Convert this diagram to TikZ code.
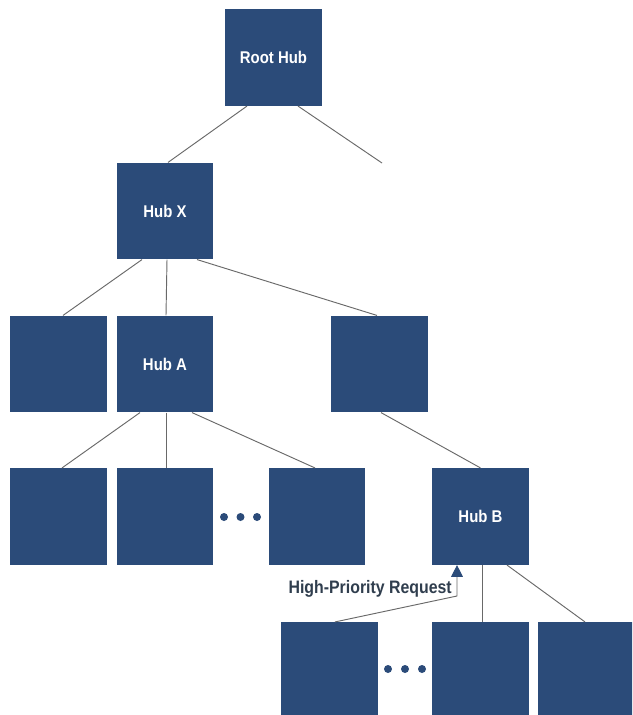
\documentclass[tikz,border=0pt]{standalone}
\usepackage{fontspec}
\setmainfont{Liberation Sans}
\newfontfamily\hubfont[FakeStretch=0.88]{Liberation Sans}
\usetikzlibrary{calc,arrows.meta}
\definecolor{hubblue}{RGB}{43,75,121}
\definecolor{wiregray}{RGB}{105,105,105}
\definecolor{labelgray}{RGB}{48,62,78}
\begin{document}
\begin{tikzpicture}[x=0.03cm, y=-0.03cm]
\tikzstyle{hub}=[fill=hubblue, minimum size=2.9cm, inner sep=0pt, text=white,
    font=\hubfont\bfseries\fontsize{14.5}{16}\selectfont]
\tikzstyle{wire}=[draw=wiregray, line width=0.8pt]

\clip (0,0) rectangle (632,715);
\fill[white] (0,0) rectangle (632,715);

% boxes, row by row
\node[hub] (Root) at (273.5,57.5) {Root Hub};
\node[hub] (HubX) at (165,211) {Hub X};

\node[hub] (X1) at (58.5,364) {};
\node[hub] (HubA) at (165,364) {Hub A};
\node[hub] (X3) at (379.5,364) {};

\node[hub] (A1) at (58.5,516.5) {};
\node[hub] (A2) at (165,516.5) {};
\node[hub] (A3) at (317,516.5) {};
\node[hub] (HubB) at (480.5,516.5) {Hub B};

\node[hub] (B1) at (329.5,670.5) {};
\node[hub] (B2) at (480.5,670.5) {};
\node[hub] (B3) at (586.5,670.5) {};

% ellipses
\foreach \x in {224,240.5,257} \fill[hubblue] (\x,517) circle (4);
\foreach \x in {388,405,422} \fill[hubblue] (\x,669) circle (4);

% links
\coordinate (RootOut) at (382,163);
\draw[wire] ($(Root.south)+(-26.5,0)$) -- ($(HubX.north)+(3,0)$);
\draw[wire] ($(Root.south)+(24.5,0)$) -- (RootOut);

\draw[wire] ($(HubX.south)+(-23,0)$) -- ($(X1.north)+(4.5,0)$);
\draw[wire] ($(HubX.south)+(2,0)$) -- ($(HubA.north)+(1,0)$);
\draw[wire] ($(HubX.south)+(32,0)$) -- ($(X3.north)+(-2.5,0)$);

\draw[wire] ($(HubA.south)+(-25,0)$) -- ($(A1.north)+(3.5,0)$);
\draw[wire] ($(HubA.south)+(1,0)$) -- ($(A2.north)+(1,0)$);
\draw[wire] ($(HubA.south)+(27,0)$) -- ($(A3.north)+(-2,0)$);

\draw[wire] ($(X3.south)+(1.5,0)$) -- (HubB.north);

\draw[wire] ($(HubB.south)+(1.5,0)$) -- ($(B2.north)+(1.5,0)$);
\draw[wire] ($(HubB.south)+(26.5,0)$) -- ($(B3.north)+(-1.5,0)$);

% request
\coordinate (Bend) at (457,596);
\node[anchor=base east, inner sep=0pt, text=labelgray,
    font=\hubfont\bfseries\fontsize{15.4}{17}\selectfont] (Request) at (452,593) {High-Priority Request};
\draw[wire, -{Triangle[width=10pt, length=10pt, color=hubblue]}]
    ($(B1.north)+(5.5,0)$) -- (Bend) -- ($(HubB.south)+(-23.5,0)$);

\end{tikzpicture}
\end{document}
